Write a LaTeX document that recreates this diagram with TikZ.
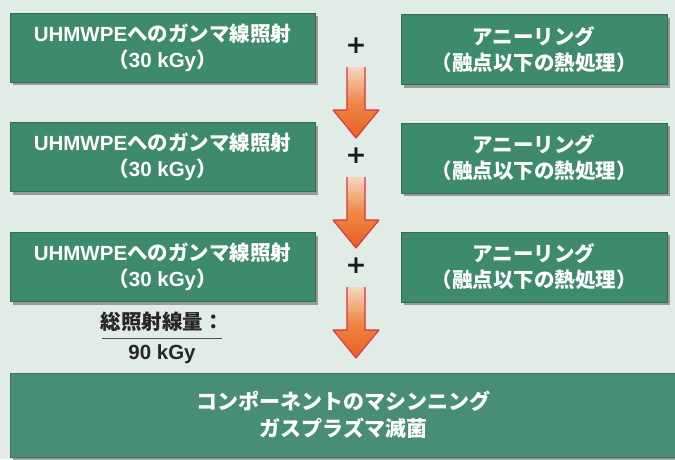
\documentclass[tikz,border=0pt]{standalone}
\usepackage{fontspec}
\setmainfont{Noto Sans CJK JP}
\newfontfamily\lat{Liberation Sans}
\newfontfamily\sym{DejaVu Sans}
\usetikzlibrary{shadows,calc}
\definecolor{bgc}{RGB}{226,236,231}
\definecolor{boxg}{RGB}{62,138,108}
\definecolor{boxb}{RGB}{72,142,116}
\definecolor{arrred}{RGB}{218,52,62}
\definecolor{arrtop}{RGB}{246,214,192}
\definecolor{arrmid}{RGB}{238,135,70}
\definecolor{arrbot}{RGB}{230,95,35}
\begin{document}
\begin{tikzpicture}[x=1pt,y=-1pt,
  shadowed/.style={drop shadow={shadow xshift=2.5pt,shadow yshift=-3pt,fill=black!70,opacity=0.5}},
  lbox/.style={shadowed,fill=boxg,draw=boxg!80!black,line width=0.6pt,text=white,
    font=\bfseries\fontsize{20.5}{26}\selectfont,align=center,inner sep=0pt,
    minimum width=305pt,minimum height=69pt},
  rbox/.style={lbox,minimum width=266pt,minimum height=70pt},
  bbox/.style={shadowed,fill=boxb,draw=boxb!80!black,line width=0.6pt,text=white,
    font=\bfseries\fontsize{21}{27}\selectfont,align=center,inner sep=0pt,
    minimum width=667pt,minimum height=84pt},
  plus/.style={font=\sym\bfseries\fontsize{25}{25}\selectfont,text=black!90,inner sep=0pt},
  dosetext/.style={font=\bfseries\fontsize{20.5}{24}\selectfont,text=black!85,inner sep=0pt},
  arrfill/.style={top color=arrtop,bottom color=arrbot,middle color=arrmid},
  arredge/.style={draw=arrred,line width=1.1pt,line join=round}
]
\fill[bgc] (0,0) rectangle (675,459);
\useasboundingbox (0,0) rectangle (675,459);

% left boxes
\node[lbox] (g1) at (162.5,47.5) {{\lat UHMWPE}へのガンマ線照射\\（{\lat 30 kGy}）};
\node[lbox] (g2) at (162.5,157) {{\lat UHMWPE}へのガンマ線照射\\（{\lat 30 kGy}）};
\node[lbox] (g3) at (162.5,267) {{\lat UHMWPE}へのガンマ線照射\\（{\lat 30 kGy}）};

% right boxes
\node[rbox] (a1) at (534,49.5) {アニーリング\\（融点以下の熱処理）};
\node[rbox] (a2) at (534,158) {アニーリング\\（融点以下の熱処理）};
\node[rbox] (a3) at (534,267) {アニーリング\\（融点以下の熱処理）};

% bottom box
\node[bbox] (m) at (343.5,415) {コンポーネントのマシンニング\\ガスプラズマ滅菌};

% plus signs
\node[plus] (p1) at (356,46) {+};
\node[plus] (p2) at (356,156) {+};
\node[plus] (p3) at (356,266) {+};

% arrows
\foreach \s/\t/\n in {67/138/1,177/248/2,287/358/3}{
  \coordinate (t\n) at (356,\s);
  \coordinate (h\n) at (356,\t);
  \shade[arrfill] ($(t\n)+(-9,0)$) -- ($(h\n)+(-9,-28)$) -- ($(h\n)+(-23,-28)$) -- (h\n)
     -- ($(h\n)+(23,-28)$) -- ($(h\n)+(9,-28)$) -- ($(t\n)+(9,0)$) -- cycle;
  \draw[arredge] ($(t\n)+(-9,0)$) -- ($(h\n)+(-9,-28)$) -- ($(h\n)+(-23,-28)$) -- (h\n)
     -- ($(h\n)+(23,-28)$) -- ($(h\n)+(9,-28)$) -- ($(t\n)+(9,0)$);
}

% total dose
\node[dosetext] (tot) at (162,322) {総照射線量：};
\node[dosetext] (dose) at (162,354) {{\lat 90 kGy}};
\coordinate (l1) at (102,338);
\coordinate (l2) at (222,338);
\draw[black!70,line width=0.9pt] (l1) -- (l2);
\end{tikzpicture}
\end{document}
